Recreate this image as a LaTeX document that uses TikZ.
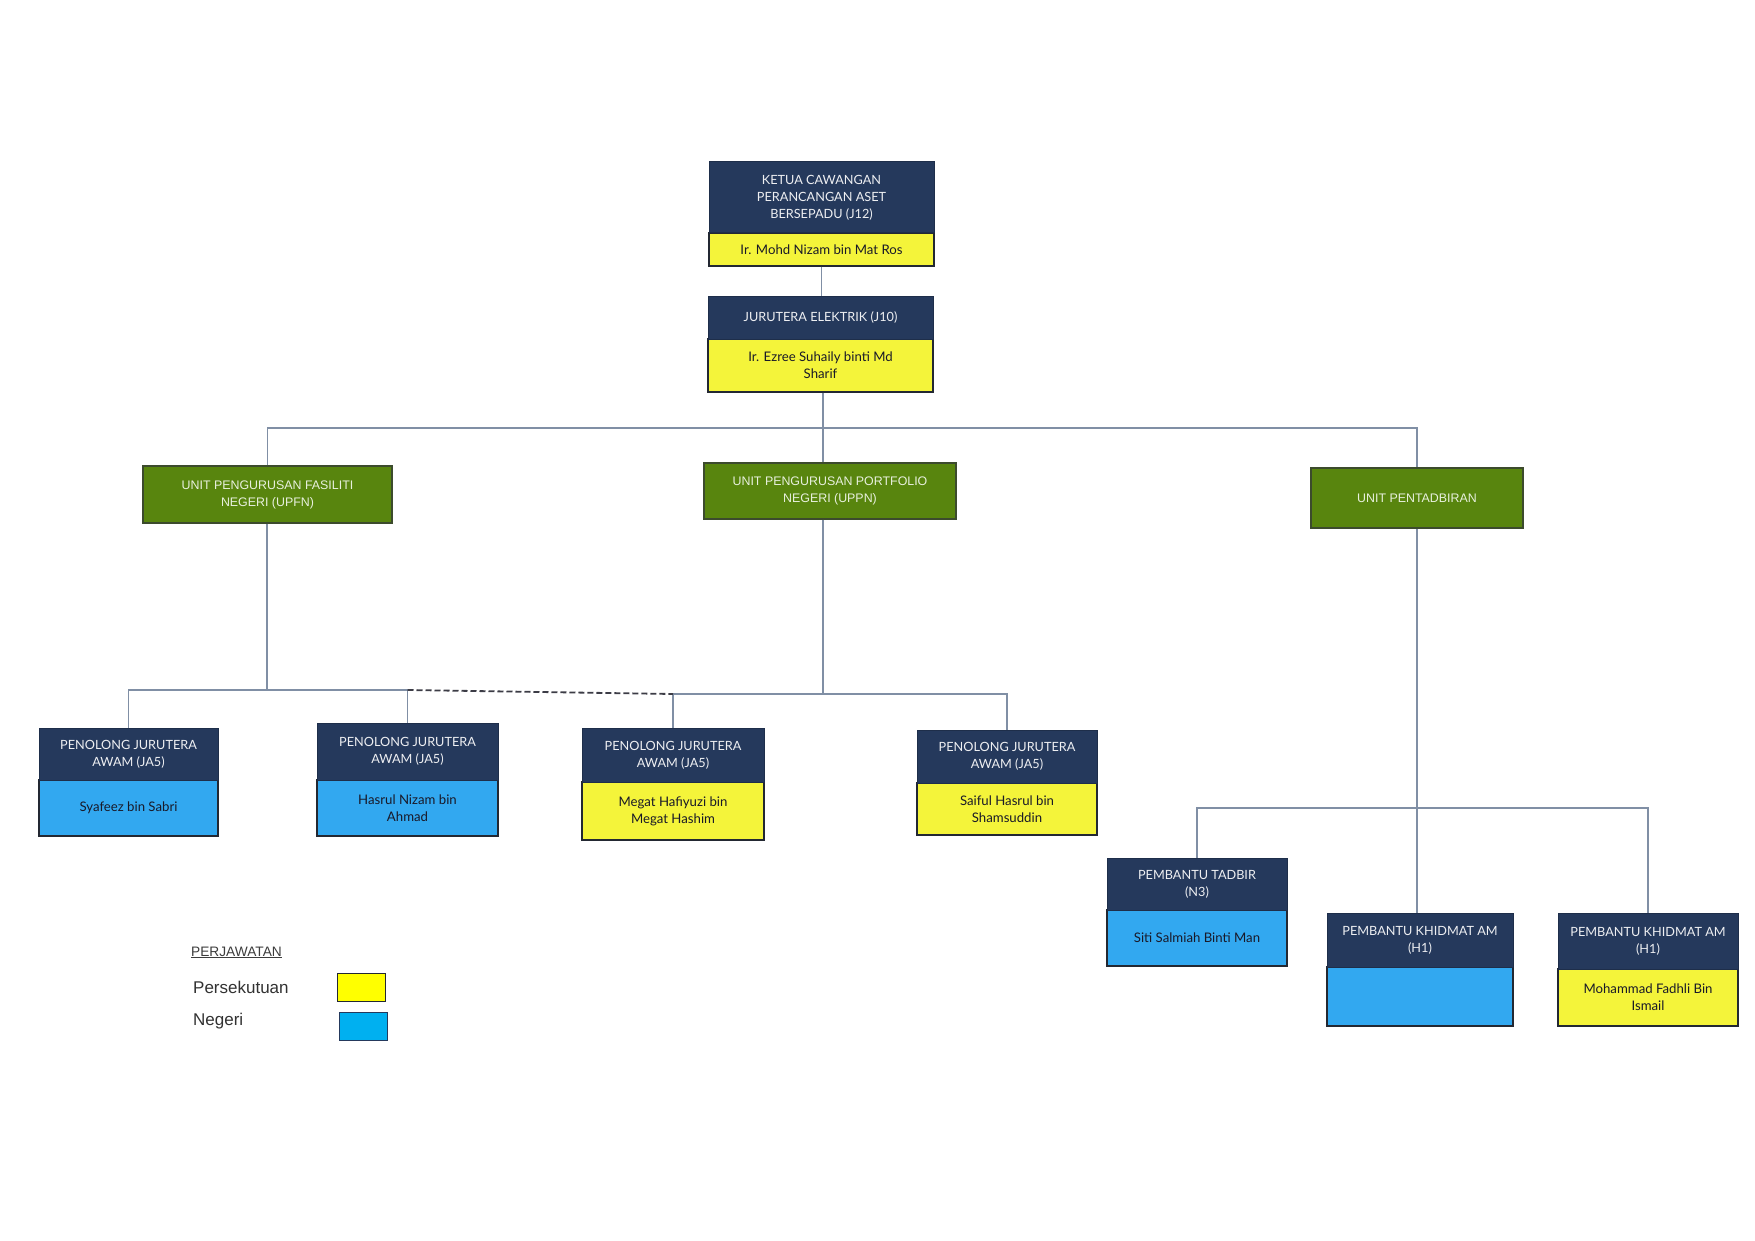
\documentclass[tikz,border=0pt]{standalone}
\usepackage{fontspec}
\setmainfont{Lato}
\newfontfamily\arialf{Liberation Sans}
\definecolor{navy}{RGB}{37,57,92}
\definecolor{nameyel}{RGB}{244,244,58}
\definecolor{nameblue}{RGB}{50,168,240}
\definecolor{unitgreen}{RGB}{88,133,14}
\definecolor{linegrey}{RGB}{128,143,165}
\definecolor{edgedark}{RGB}{35,40,50}
\definecolor{legyel}{RGB}{255,255,0}
\definecolor{legblue}{RGB}{0,176,240}
\tikzset{
  hdrbox/.style={rectangle, draw=navy!80!black, line width=1pt, fill=navy, text=white!92!navy, align=center, inner sep=2pt, font=\fontsize{12.7}{17}\selectfont},
  namebox/.style={rectangle, draw=edgedark, line width=1.3pt, text={rgb,255:red,25;green,25;blue,40}, align=center, inner sep=2pt, font=\fontsize{13.2}{17}\selectfont},
  unitbox/.style={rectangle, draw={rgb,255:red,60;green,75;blue,45}, line width=1.3pt, fill=unitgreen, text={rgb,255:red,232;green,240;blue,222}, align=center, inner sep=2pt, font=\arialf\fontsize{12.4}{17}\selectfont},
  conn/.style={draw=linegrey, line width=1.8pt},
  dashconn/.style={draw={rgb,255:red,60;green,60;blue,70}, line width=1.8pt, dash pattern=on 6pt off 3pt},
  legtext/.style={anchor=base west, inner sep=0pt, text={rgb,255:red,50;green,50;blue,50}, font=\arialf\fontsize{17}{20}\selectfont},
  legbox/.style={rectangle, draw=edgedark, line width=1.3pt, anchor=north west, inner sep=0pt}
}
\newcommand\orgpos[9]{%
  \pgfmathsetmacro\ow{#5-#2}\pgfmathsetmacro\oha{#4-#3}\pgfmathsetmacro\ohb{#6-#4}%
  \node[namebox, fill=#9, minimum width=\ow pt, minimum height=\ohb pt] (#1n) at ({(#2+#5)/2},{(#4+#6)/2}) {#8};
  \node[hdrbox, minimum width=\ow pt, minimum height=\oha pt] (#1h) at ({(#2+#5)/2},{(#3+#4)/2}) {#7};
}
\newcommand\orgunit[6]{%
  \pgfmathsetmacro\ow{#4-#2}\pgfmathsetmacro\oha{#5-#3}%
  \node[unitbox, minimum width=\ow pt, minimum height=\oha pt] (#1) at ({(#2+#4)/2},{(#3+#5)/2}) {#6};
}
\begin{document}
\begin{tikzpicture}[x=1pt,y=-1pt]
\useasboundingbox[fill=white] (0,0) rectangle (1755,1241);

% junction coordinates
\coordinate (j1) at (823,428);
\coordinate (j2) at (267,690);
\coordinate (j3) at (823,694);
\coordinate (j4) at (1418,808);

% nodes
\orgpos{ketua}{709}{162}{233}{934}{266}{KETUA CAWANGAN\\PERANCANGAN ASET\\BERSEPADU (J12)}{Ir. Mohd Nizam bin Mat Ros}{nameyel}
\orgpos{jur}{708}{296}{339}{933}{392}{JURUTERA ELEKTRIK (J10)}{Ir. Ezree Suhaily binti Md\\Sharif}{nameyel}

\orgunit{upfn}{143}{466}{392}{523}{UNIT PENGURUSAN FASILITI\\NEGERI (UPFN)}
\orgunit{uppn}{704}{463}{956}{519}{UNIT PENGURUSAN PORTFOLIO\\NEGERI (UPPN)}
\orgunit{pent}{1311}{468}{1523}{528}{UNIT PENTADBIRAN}

\orgpos{pja}{39}{728}{780}{218}{836}{PENOLONG JURUTERA\\AWAM (JA5)}{Syafeez bin Sabri}{nameblue}
\orgpos{pjb}{317}{723}{780}{498}{836}{PENOLONG JURUTERA\\AWAM (JA5)}{Hasrul Nizam bin\\Ahmad}{nameblue}
\orgpos{pjc}{582}{728}{782}{764}{840}{PENOLONG JURUTERA\\AWAM (JA5)}{Megat Hafiyuzi bin\\Megat Hashim}{nameyel}
\orgpos{pjd}{917}{730}{783}{1097}{835}{PENOLONG JURUTERA\\AWAM (JA5)}{Saiful Hasrul bin\\Shamsuddin}{nameyel}

\orgpos{pt}{1107}{858}{910}{1287}{966}{PEMBANTU TADBIR\\(N3)}{Siti Salmiah Binti Man}{nameblue}
\orgpos{pka}{1327}{913}{967}{1513}{1026}{PEMBANTU KHIDMAT AM\\(H1)}{}{nameblue}
\orgpos{pkb}{1558}{913}{969}{1738}{1026}{PEMBANTU KHIDMAT AM\\(H1)}{Mohammad Fadhli Bin\\Ismail}{nameyel}

% connectors
\draw[conn] (ketuan.south) -- (ketuan.south |- jurh.north);
\draw[conn] (j1 |- jurn.south) -- (j1 |- uppn.north);
\draw[conn] (upfn.north) |- (j1) -| (pent.north);
\draw[conn] (j2 |- upfn.south) -- (j2);
\draw[conn] (pjah.north) |- (j2) -| (pjbh.north);
\draw[conn] (uppn.south -| j3) -- (j3);
\draw[conn] (pjch.north) |- (j3) -| (pjdh.north);
\draw[dashconn] (pjbh.north |- j2) -- (pjch.north |- j3);
\draw[conn] (pent.south) -- (pent.south |- pkah.north);
\draw[conn] (pth.north) |- (j4) -| (pkbh.north);

% legend
\node[legtext, font=\arialf\fontsize{13.7}{16}\selectfont, text={rgb,255:red,60;green,60;blue,60}] (legtitle) at (191,956) {\underline{PERJAWATAN}};
\node[legtext] (legfed) at (193,993) {Persekutuan};
\node[legtext] (legst) at (193,1025) {Negeri};
\node[legbox, fill=legyel, minimum width=48pt, minimum height=28pt] (legfedbox) at (337,973) {};
\node[legbox, fill=legblue, draw=navy, minimum width=48pt, minimum height=28pt] (legstbox) at (339,1012) {};
\end{tikzpicture}
\end{document}
